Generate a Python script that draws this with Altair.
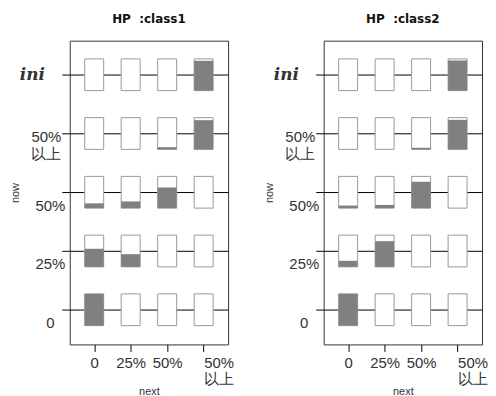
import json
import altair as alt
import pandas as pd

# ---- data ----
next_labels = ["0", "25%", "50%", "50%\n以上"]
now_labels = ["0", "25%", "50%", "50%\n以上", "ini"]
panel_titles = ["HP\u00a0\u00a0:class1", "HP\u00a0\u00a0:class2"]

# rows = "now" state (0, 25%, 50%, 50%以上, ini); columns = "next" state
class1_now_0 = [1.00, 0.00, 0.00, 0.00]
class1_now_25 = [0.57, 0.40, 0.00, 0.00]
class1_now_50 = [0.15, 0.21, 0.65, 0.00]
class1_now_50up = [0.00, 0.00, 0.07, 0.92]
class1_now_ini = [0.00, 0.00, 0.00, 0.94]

class2_now_0 = [1.00, 0.00, 0.00, 0.00]
class2_now_25 = [0.19, 0.81, 0.00, 0.00]
class2_now_50 = [0.08, 0.10, 0.83, 0.00]
class2_now_50up = [0.00, 0.00, 0.05, 0.93]
class2_now_ini = [0.00, 0.00, 0.00, 0.95]

class1 = [class1_now_0, class1_now_25, class1_now_50, class1_now_50up, class1_now_ini]
class2 = [class2_now_0, class2_now_25, class2_now_50, class2_now_50up, class2_now_ini]


def make_df(mat):
    recs = []
    for i, row in enumerate(mat):
        for j, p in enumerate(row):
            recs.append({"now": i + 1, "next": j + 1, "p": p})
    return pd.DataFrame(recs)


HW = 0.26  # half box width (x units)
HH = 0.27  # half box height (y units)

LABEL_FONT = "Liberation Sans"
x_expr = "split(" + json.dumps(next_labels) + "[datum.value - 1], '\\n')"
y_expr = "split(" + json.dumps(now_labels) + "[datum.value - 1], '\\n')"

x_scale = alt.Scale(domain=[0.33, 4.67], nice=False, zero=False)
y_scale = alt.Scale(domain=[0.41, 5.58], nice=False, zero=False)

x_axis = alt.Axis(
    values=[1, 2, 3, 4], labelExpr=x_expr, grid=False, domain=False,
    tickSize=7, tickColor="black", labelFlush=False, labelOverlap=False,
    labelFont=LABEL_FONT, labelFontSize=15, labelColor="#333",
    labelAlign={"condition": {"test": "datum.value == 4", "value": "left"}, "value": "center"},
    labelBaseline="top", labelPadding=4, labelLineHeight=16,
    title="next", titleFont="Liberation Sans", titleFontSize=11,
    titleFontWeight="normal", titleColor="#333", titleY=41, titleBaseline="top",
)

y_axis = alt.Axis(
    values=[1, 2, 3, 4, 5], labelExpr=y_expr, grid=True, gridColor="black",
    gridWidth=1, domain=False, tickSize=8, tickColor="black",
    labelFlush=False, labelOverlap=False, labelColor="#333",
    labelFont={"condition": {"test": "datum.value == 5", "value": "DejaVu Serif"}, "value": LABEL_FONT},
    labelFontSize={"condition": {"test": "datum.value == 5", "value": 17}, "value": 15},
    labelFontStyle={"condition": {"test": "datum.value == 5", "value": "italic"}, "value": "normal"},
    labelFontWeight={"condition": {"test": "datum.value == 5", "value": "bold"}, "value": "normal"},
    labelAlign="center", labelBaseline="middle", labelLineHeight=17,
    labelPadding={"condition": [{"test": "datum.value == 5", "value": 30},
                                {"test": "datum.value == 4", "value": 16}], "value": 12},
    labelOffset={"condition": [{"test": "datum.value == 5", "value": 0},
                               {"test": "datum.value == 4", "value": 3}], "value": 13},
    title="now", titleFont="Liberation Sans", titleFontSize=11,
    titleFontWeight="normal", titleColor="#333", titlePadding=-1,
)


def panel(mat, title):
    base = alt.Chart(make_df(mat)).transform_calculate(
        x1=f"datum.next - {HW}", x2=f"datum.next + {HW}",
        y1=f"datum.now - {HH}", y2=f"datum.now + {HH}",
        yf=f"datum.now - {HH} + {2 * HH} * datum.p",
    )
    boxes = base.mark_rect(fill="white", stroke="#999999", strokeWidth=1).encode(
        x=alt.X("x1:Q", scale=x_scale, axis=x_axis),
        x2="x2:Q",
        y=alt.Y("y1:Q", scale=y_scale, axis=y_axis),
        y2="y2:Q",
    )
    fills = base.transform_filter("datum.p > 0").mark_rect(fill="#808080", strokeWidth=0).encode(
        x=alt.X("x1:Q", scale=x_scale, axis=x_axis),
        x2="x2:Q",
        y=alt.Y("y1:Q", scale=y_scale, axis=y_axis),
        y2="yf:Q",
    )
    return alt.layer(boxes, fills).properties(
        width=159, height=305,
        title=alt.TitleParams(title, font="DejaVu Sans", fontSize=12,
                              fontWeight="bold", color="#111", anchor="middle", offset=15),
    )


chart = alt.hconcat(panel(class1, panel_titles[0]), panel(class2, panel_titles[1]),
                    spacing=96, bounds="flush").properties(
    padding={"left": 0, "top": 3, "right": 0, "bottom": 0}
).configure_view(
    stroke="#333333", strokeWidth=1
)

chart.save("out.html", embed_options={"renderer": "svg", "actions": False})
